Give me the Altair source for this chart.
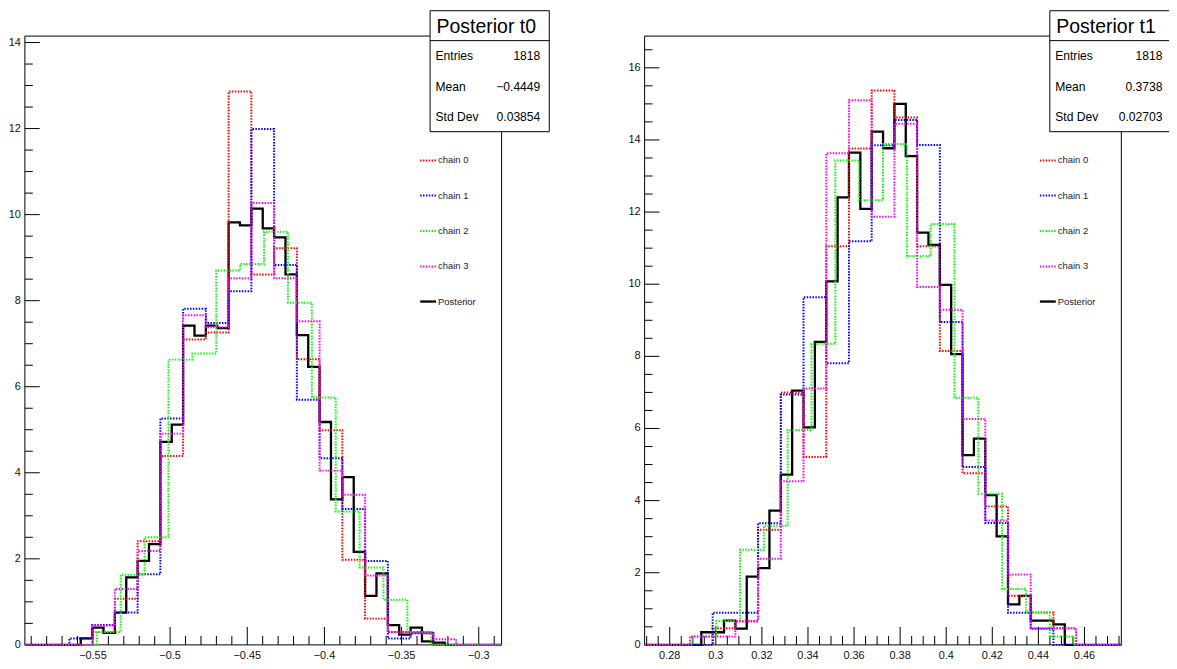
import altair as alt
import pandas as pd

FONT = "Liberation Sans"

# ---------------- data ----------------
# panel t0
T0_RANGE = [-0.5941, -0.2852]
T0_YMAX = 14.15
t0_post_start, t0_post_width = -0.5579, 0.00737
t0_post = [0.15, 0.40, 0.28, 0.75, 1.57, 1.95, 2.34, 4.72, 5.12, 7.42, 7.19, 7.42,
           7.36, 9.82, 9.75, 10.14, 9.68, 9.47, 8.61, 7.20, 6.46, 5.18, 3.38, 3.90,
           2.16, 1.14, 1.66, 0.46, 0.24, 0.40, 0.08, 0.05]
t0_c013_start, t0_c013_width = -0.56527, 0.01474
t0_chain0 = [0, 0.30, 1.07, 2.41, 4.39, 7.10, 7.26, 12.86, 8.61, 9.22, 6.64, 4.99,
             1.98, 0.61, 0.30, 0.30, 0]
t0_chain1 = [0.15, 0.46, 0.75, 1.64, 5.26, 7.81, 7.48, 8.22, 11.99, 8.83, 5.70, 4.34,
             3.16, 1.95, 0.15, 0.27, 0]
t0_chain3 = [0, 0.45, 1.30, 2.18, 4.91, 7.66, 7.38, 8.52, 10.27, 8.52, 7.52, 4.05,
             3.49, 1.61, 0.30, 0.27, 0.13]
t0_c2_start, t0_c2_width = -0.5475, 0.01548
t0_chain2 = [0.30, 1.63, 2.50, 6.63, 6.77, 8.70, 8.85, 9.60, 7.95, 5.75, 3.10, 1.80,
             1.05, 0.30]

# panel t1
T1_RANGE = [0.2691, 0.4760]
T1_YMAX = 16.88
t1_post_start, t1_post_width = 0.2937, 0.00493
t1_post = [0.35, 0.35, 0.67, 0.45, 1.89, 2.13, 3.72, 4.72, 7.05, 6.03, 8.40, 10.08,
           12.41, 13.65, 12.09, 14.23, 13.77, 15.00, 13.55, 11.43, 11.09, 9.98, 8.06,
           5.26, 5.72, 4.15, 3.01, 1.12, 1.36, 0.67, 0.67, 0.57]
t1_c013_start, t1_c013_width = 0.28877, 0.00986
t1_chain0 = [0, 0.46, 0.65, 3.19, 7.00, 5.21, 11.05, 13.76, 15.37, 14.62, 11.05, 8.15,
             4.76, 3.84, 1.36, 0.90, 0.46]
t1_chain1 = [0, 0.89, 0.89, 3.37, 6.94, 9.64, 7.81, 11.19, 13.85, 14.55, 13.86, 8.95,
             4.93, 3.38, 0.89, 0.45, 0]
t1_chain3 = [0.23, 0.23, 0.66, 2.39, 4.54, 7.11, 13.63, 15.10, 11.87, 14.45, 9.92, 9.29,
             6.26, 3.45, 1.95, 0.46, 0.46]
t1_c2_start, t1_c2_width = 0.28983, 0.01034
t1_chain2 = [0.23, 0.66, 2.64, 3.30, 5.96, 8.35, 13.43, 12.33, 13.89, 10.78, 11.67, 6.85,
             4.19, 1.55, 0.90, 0.23]

# ticks and labels
t0_xmajor = [-0.55, -0.5, -0.45, -0.4, -0.35, -0.3]
t0_xlabels = ["\u22120.55", "\u22120.5", "\u22120.45", "\u22120.4", "\u22120.35", "\u22120.3"]
t0_xminor = [-0.59, -0.58, -0.57, -0.56, -0.54, -0.53, -0.52, -0.51, -0.49, -0.48,
             -0.47, -0.46, -0.44, -0.43, -0.42, -0.41, -0.39, -0.38, -0.37, -0.36,
             -0.34, -0.33, -0.32, -0.31, -0.29]
t0_ymajor = [0, 2, 4, 6, 8, 10, 12, 14]
t0_yminor = [0.5, 1, 1.5, 2.5, 3, 3.5, 4.5, 5, 5.5, 6.5, 7, 7.5, 8.5, 9, 9.5, 10.5, 11,
             11.5, 12.5, 13, 13.5]

t1_xmajor = [0.28, 0.30, 0.32, 0.34, 0.36, 0.38, 0.40, 0.42, 0.44, 0.46]
t1_xlabels = ["0.28", "0.3", "0.32", "0.34", "0.36", "0.38", "0.4", "0.42", "0.44", "0.46"]
t1_xminor = [0.27, 0.275, 0.285, 0.29, 0.295, 0.305, 0.31, 0.315, 0.325, 0.33, 0.335,
             0.345, 0.35, 0.355, 0.365, 0.37, 0.375, 0.385, 0.39, 0.395, 0.405, 0.41,
             0.415, 0.425, 0.43, 0.435, 0.445, 0.45, 0.455, 0.465, 0.47, 0.475]
t1_ymajor = [0, 2, 4, 6, 8, 10, 12, 14, 16]
t1_yminor = [0.5, 1, 1.5, 2.5, 3, 3.5, 4.5, 5, 5.5, 6.5, 7, 7.5, 8.5, 9, 9.5, 10.5, 11,
             11.5, 12.5, 13, 13.5, 14.5, 15, 15.5, 16.5]

legend_labels = ["chain 0", "chain 1", "chain 2", "chain 3", "Posterior"]
legend_colors = ["#ff0000", "#0000ff", "#00ff00", "#ff00ff", "#000000"]

stat_names = ["Entries", "Mean", "Std Dev"]
t0_title = "Posterior t0"
t0_stats = ["1818", "\u22120.4449", "0.03854"]
t1_title = "Posterior t1"
t1_stats = ["1818", "0.3738", "0.02703"]

# ---------------- layout (pixels inside the plot group) ----------------
W, H = 1104, 613
PW = 480
OFFS = [0, 624]
DOT = [1.5, 1.4]


def step_df(start, width, vals, lo, hi):
    xs, ys = [lo], [0.0]
    for i, v in enumerate(vals):
        xs.append(start + i * width)
        ys.append(v)
    xs.append(start + len(vals) * width)
    ys.append(0.0)
    xs.append(hi)
    ys.append(0.0)
    return pd.DataFrame({"x": xs, "y": ys, "o": list(range(len(xs)))})


def one():
    return pd.DataFrame({"a": [0]})


def panel(off, xr, ymax, series, xmajor, xlabels, xminor, ymajor, yminor):
    sx = alt.Scale(domain=xr, range=[off, off + PW], nice=False, zero=False)
    sy = alt.Scale(domain=[0, ymax], range=[H, 0], nice=False, zero=False)
    layers = []
    # frame
    layers.append(alt.Chart(one()).mark_rect(fillOpacity=0, stroke="black", strokeWidth=1).encode(
        x=alt.value(off), x2=alt.value(off + PW), y=alt.value(0), y2=alt.value(H)))
    # ticks
    layers.append(alt.Chart(pd.DataFrame({"v": xmajor})).mark_rule(color="black", strokeWidth=1).encode(
        x=alt.X("v:Q", scale=sx, axis=None), y=alt.value(H), y2=alt.value(H - 18)))
    layers.append(alt.Chart(pd.DataFrame({"v": xminor})).mark_rule(color="black", strokeWidth=1).encode(
        x=alt.X("v:Q", scale=sx, axis=None), y=alt.value(H), y2=alt.value(H - 9)))
    layers.append(alt.Chart(pd.DataFrame({"v": ymajor})).mark_rule(color="black", strokeWidth=1).encode(
        y=alt.Y("v:Q", scale=sy, axis=None), x=alt.value(off), x2=alt.value(off + 15)))
    layers.append(alt.Chart(pd.DataFrame({"v": yminor})).mark_rule(color="black", strokeWidth=1).encode(
        y=alt.Y("v:Q", scale=sy, axis=None), x=alt.value(off), x2=alt.value(off + 8)))
    # tick labels
    layers.append(alt.Chart(pd.DataFrame({"v": xmajor, "t": xlabels})).mark_text(
        align="center", baseline="middle", fontSize=11, font=FONT, color="#111").encode(
        x=alt.X("v:Q", scale=sx, axis=None), y=alt.value(H + 11.5), text="t:N"))
    layers.append(alt.Chart(pd.DataFrame({"v": ymajor, "t": [str(v) for v in ymajor]})).mark_text(
        align="right", baseline="middle", fontSize=11, font=FONT, color="#111").encode(
        y=alt.Y("v:Q", scale=sy, axis=None), x=alt.value(off - 4), text="t:N"))
    # histograms: posterior first, chains on top
    for (start, width, vals, color, dotted) in series:
        df = step_df(start, width, vals, xr[0], xr[1])
        if dotted:
            mk = alt.Chart(df).mark_line(interpolate="step-after", color=color, strokeWidth=2,
                                         strokeDash=DOT)
        else:
            mk = alt.Chart(df).mark_line(interpolate="step-after", color=color, strokeWidth=2.3)
        layers.append(mk.encode(x=alt.X("x:Q", scale=sx, axis=None),
                                y=alt.Y("y:Q", scale=sy, axis=None),
                                order=alt.Order("o:Q")))
    # legend
    rows = [125.3, 160.6, 196.3, 232.0, 267.3]
    for lab, col, yy in zip(legend_labels, legend_colors, rows):
        if lab == "Posterior":
            r = alt.Chart(one()).mark_rule(color=col, strokeWidth=2.3)
        else:
            r = alt.Chart(one()).mark_rule(color=col, strokeWidth=2, strokeDash=DOT)
        layers.append(r.encode(x=alt.value(off + 398), x2=alt.value(off + 414), y=alt.value(yy)))
        layers.append(alt.Chart(one()).mark_text(align="left", baseline="middle", fontSize=9.5,
                                                 font=FONT, color="#222").encode(
            x=alt.value(off + 416), y=alt.value(yy), text=alt.value(lab)))
    return alt.layer(*layers)


def stats_box(off, title, values, box_right, val_right):
    layers = []
    layers.append(alt.Chart(one()).mark_rect(fill="white", stroke="black", strokeWidth=1).encode(
        x=alt.value(off + 408), x2=alt.value(off + box_right), y=alt.value(-25.5), y2=alt.value(96.3)))
    layers.append(alt.Chart(one()).mark_rule(color="black", strokeWidth=1).encode(
        x=alt.value(off + 408), x2=alt.value(off + box_right), y=alt.value(4.6)))
    layers.append(alt.Chart(one()).mark_text(align="left", baseline="middle", fontSize=19.6,
                                             font=FONT, color="black").encode(
        x=alt.value(off + 414.5), y=alt.value(-9.5), text=alt.value(title)))
    for name, val, yy in zip(stat_names, values, [19.6, 51.3, 82.0]):
        layers.append(alt.Chart(one()).mark_text(align="left", baseline="middle", fontSize=12.2,
                                                 font=FONT, color="black").encode(
            x=alt.value(off + 413.4), y=alt.value(yy), text=alt.value(name)))
        layers.append(alt.Chart(one()).mark_text(align="right", baseline="middle", fontSize=12.2,
                                                 font=FONT, color="black").encode(
            x=alt.value(off + val_right), y=alt.value(yy), text=alt.value(val)))
    return alt.layer(*layers)


left = panel(OFFS[0], T0_RANGE, T0_YMAX, [
    (t0_post_start, t0_post_width, t0_post, "#000000", False),
    (t0_c013_start, t0_c013_width, t0_chain0, "#ff0000", True),
    (t0_c013_start, t0_c013_width, t0_chain1, "#0000ff", True),
    (t0_c2_start, t0_c2_width, t0_chain2, "#00ff00", True),
    (t0_c013_start, t0_c013_width, t0_chain3, "#ff00ff", True),
], t0_xmajor, t0_xlabels, t0_xminor, t0_ymajor, t0_yminor)

right = panel(OFFS[1], T1_RANGE, T1_YMAX, [
    (t1_post_start, t1_post_width, t1_post, "#000000", False),
    (t1_c013_start, t1_c013_width, t1_chain0, "#ff0000", True),
    (t1_c013_start, t1_c013_width, t1_chain1, "#0000ff", True),
    (t1_c2_start, t1_c2_width, t1_chain2, "#00ff00", True),
    (t1_c013_start, t1_c013_width, t1_chain3, "#ff00ff", True),
], t1_xmajor, t1_xlabels, t1_xminor, t1_ymajor, t1_yminor)

box_left = stats_box(OFFS[0], t0_title, t0_stats, 528, 519)
box_right = stats_box(OFFS[1], t1_title, t1_stats, 540, 521.5)

chart = alt.layer(left, right, box_left, box_right).resolve_scale(
    x="independent", y="independent"
).properties(
    width=W, height=H,
    padding={"left": 17, "top": 26, "right": 48, "bottom": 18},
    autosize=alt.AutoSizeParams(type="none"),
    background="white",
).configure_view(strokeWidth=0)

chart.save("out.html", embed_options={"renderer": "svg", "actions": False})
